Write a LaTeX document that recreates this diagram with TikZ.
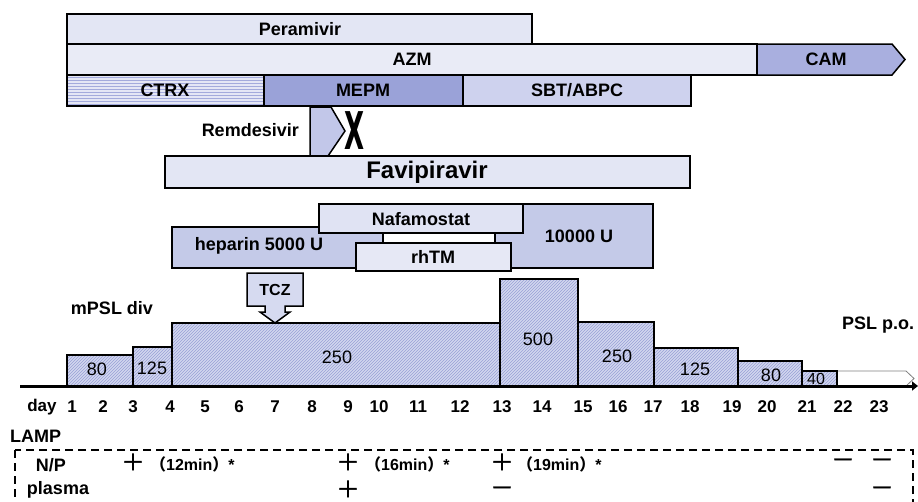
\documentclass[tikz,border=0pt]{standalone}
\usepackage{fontspec}
\setmainfont{Liberation Sans}
\newfontfamily\cjk{Noto Sans CJK JP}
\newfontfamily\cjkb{Noto Sans CJK JP}[FakeBold=1.5]
\newfontfamily\dvs{DejaVu Sans}
\usetikzlibrary{arrows.meta,patterns}
\definecolor{peram}{HTML}{E3E6F4}
\definecolor{azm}{HTML}{E9EBF6}
\definecolor{cam}{HTML}{A9AFDF}
\definecolor{ctrx}{HTML}{E4E6F5}
\definecolor{ctrxh}{HTML}{A3AADC}
\definecolor{mepm}{HTML}{9AA2D8}
\definecolor{sbt}{HTML}{CED2EE}
\definecolor{remc}{HTML}{C2C7E9}
\definecolor{favi}{HTML}{E3E6F4}
\definecolor{hep}{HTML}{C4CAE8}
\definecolor{nafa}{HTML}{E0E3F3}
\definecolor{rhtm}{HTML}{E6E8F5}
\definecolor{mpsl}{HTML}{D2D7EF}
\definecolor{mpslh}{HTML}{98A0D6}
\definecolor{tcz}{HTML}{D6DAF0}
\begin{document}
\begin{tikzpicture}[x=1pt,y=-1pt,
  bar/.style={draw=black, line width=1.5pt, anchor=north west, inner sep=0pt, outer sep=0pt},
  hatch/.style={preaction={fill=mpsl}, pattern=north east lines, pattern color=mpslh},
  lbl/.style={font=\fontsize{18}{18}\selectfont\bfseries, inner sep=0pt},
  num/.style={font=\fontsize{18}{18}\selectfont, inner sep=0pt},
  dayl/.style={font=\fontsize{17}{17}\selectfont\bfseries, inner sep=0pt},
  sym/.style={font=\cjkb\fontsize{23}{23}\selectfont, inner sep=0pt, anchor=base},
  note/.style={font=\fontsize{16}{16}\selectfont\bfseries, inner sep=0pt, anchor=west}]
\clip (0,0) rectangle (918,501);
\fill[white] (0,0) rectangle (918,501);
% top antibiotic / antiviral bars
\node[bar, fill=azm, minimum width=690pt, minimum height=31pt] (azm) at (67,44) {};
\node[lbl] (azmt) at (412,59.5) {AZM};
\draw[line width=1.5pt, fill=cam] (757,44) -- (892,44) -- (905,59.5) -- (892,75) -- (757,75) -- cycle;
\node[lbl] (camt) at (826,59.5) {CAM};
\node[bar, fill=peram, minimum width=465pt, minimum height=30pt] (peram) at (67,14) {};
\node[lbl] (peramt) at (300,29) {Peramivir};
\node[bar, preaction={fill=ctrx}, pattern=horizontal lines, pattern color=ctrxh, minimum width=197pt, minimum height=31pt] (ctrx) at (67,75) {};
\node[lbl] (ctrxt) at (165,90.5) {CTRX};
\node[bar, fill=mepm, minimum width=199pt, minimum height=31pt] (mepm) at (264,75) {};
\node[lbl] (mepmt) at (363,90.5) {MEPM};
\node[bar, fill=sbt, minimum width=228pt, minimum height=31pt] (sbt) at (463,75) {};
\node[lbl] (sbtt) at (577,90.5) {SBT/ABPC};
% remdesivir / favipiravir
\node[lbl, anchor=east] (remt) at (299,130) {Remdesivir};
\draw[line width=1.5pt, fill=remc] (310,107) -- (331,107) -- (345,131) -- (328,156) -- (310,156) -- cycle;
\node[inner sep=0pt, font=\dvs\bfseries\fontsize{52}{52}\selectfont] (xmark) at (355,131) {\scalebox{0.5}[1]{X}};
\node[bar, fill=favi, minimum width=525pt, minimum height=32pt] (favi) at (165,156) {};
\node[inner sep=0pt, font=\fontsize{24}{24}\selectfont\bfseries] (favit) at (427,172) {Favipiravir};
% anticoagulants
\node[bar, fill=hep, minimum width=211pt, minimum height=41pt] (hep5) at (172,227) {};
\node[lbl] (hep5t) at (259,246) {heparin 5000 U};
\node[bar, fill=hep, minimum width=158pt, minimum height=64pt] (hep10) at (495,204) {};
\node[lbl] (hep10t) at (579,236) {10000 U};
\node[bar, fill=nafa, minimum width=204pt, minimum height=29pt] (nafa) at (319,204) {};
\node[lbl] (nafat) at (421,219) {Nafamostat};
\node[bar, fill=rhtm, minimum width=155pt, minimum height=28pt] (rhtm) at (356,243) {};
\node[lbl] (rhtmt) at (433,257) {rhTM};
% steroid
\node[lbl] (mpslt) at (112,308) {mPSL div};
\node[lbl] (pslt) at (878,325) {PSL p.o.};
\draw[draw=gray, line width=0.8pt, fill=white] (837,371) -- (906,371) -- (914,378.5) -- (906,386) -- (837,386) -- cycle;
\node[bar, hatch, minimum width=66pt, minimum height=31pt] (m1) at (67,355) {};
\node[num] (m1t) at (97,369) {80};
\node[bar, hatch, minimum width=39pt, minimum height=39pt] (m2) at (133,347) {};
\node[num] (m2t) at (152,368) {125};
\node[bar, hatch, minimum width=328pt, minimum height=63pt] (m3) at (172,323) {};
\node[num] (m3t) at (337,357) {250};
\node[bar, hatch, minimum width=78pt, minimum height=107pt] (m4) at (500,279) {};
\node[num] (m4t) at (538,339) {500};
\node[bar, hatch, minimum width=76pt, minimum height=64pt] (m5) at (578,322) {};
\node[num] (m5t) at (617,356) {250};
\node[bar, hatch, minimum width=84pt, minimum height=38pt] (m6) at (654,348) {};
\node[num] (m6t) at (695,369) {125};
\node[bar, hatch, minimum width=64pt, minimum height=25pt] (m7) at (738,361) {};
\node[num] (m7t) at (771,375) {80};
\node[bar, hatch, minimum width=35pt, minimum height=15pt] (m8) at (802,371) {};
\node[num, font=\fontsize{16}{16}\selectfont] (m8t) at (816,379) {40};
% TCZ callout
\draw[line width=1.5pt, fill=tcz] (247,273) -- (303,273) -- (303,306) -- (285,306) -- (285,312) -- (290,312) -- (275,323) -- (260,312) -- (265,312) -- (265,306) -- (247,306) -- cycle;
\node[inner sep=0pt, font=\fontsize{16}{16}\selectfont\bfseries] (tczt) at (275,290) {TCZ};
% axis
\coordinate (axs) at (20,386);
\coordinate (axe) at (918,386);
\draw[line width=3pt, -{Triangle[length=6pt,width=9pt]}] (axs) -- (axe);
% days
\node[dayl] (dayt) at (42,407) {day};
\foreach \n/\x in {1/72,2/103,3/133,4/170,5/205,6/239,7/275,8/312,9/348,10/379,11/418,12/460,13/502,14/542,15/583,16/618,17/653,18/690,19/732,20/767,21/807,22/843,23/879}
  \node[dayl] (d\n) at (\x,407) {\n};
% LAMP
\node[lbl, anchor=west] (lampt) at (10,436) {LAMP};
\draw[line width=1.5pt, dash pattern=on 8pt off 5pt] (15,450) rectangle (913,530);
\node[lbl] (npt) at (51,465) {N/P};
\node[lbl] (plt) at (58,490) {plasma};
\node[sym] (p1) at (133,470.5) {＋};
\node[note] (n1) at (150,464) {{\cjk（}12min{\cjk）}*};
\node[sym] (p2) at (348,470.5) {＋};
\node[note] (n2) at (365,464) {{\cjk（}16min{\cjk）}*};
\node[sym] (p3) at (502,470.5) {＋};
\node[note] (n3) at (517,464) {{\cjk（}19min{\cjk）}*};
\node[sym] (p4) at (843,468) {－};
\node[sym] (p5) at (882,468) {－};
\node[sym] (q1) at (348,497.5) {＋};
\node[sym] (q2) at (502,496) {－};
\node[sym] (q3) at (882,496) {－};
\end{tikzpicture}
\end{document}
